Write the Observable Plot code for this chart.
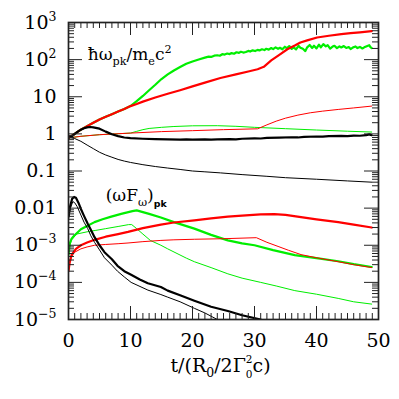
<!DOCTYPE html>
<html>
<head>
<meta charset="utf-8">
<script src="https://cdn.jsdelivr.net/npm/d3@7"></script>
<script src="https://cdn.jsdelivr.net/npm/@observablehq/plot@0.6"></script>
<style>
  html, body { margin: 0; padding: 0; background: #fff; }
  #chart svg { display: block; }
</style>
</head>
<body>
<div id="chart"></div>
<script>
// ---------- data (t in units of R0/2Γ0²c) ----------
// upper group: ħω_pk / m_e c²
const hwThickRed = [[0,0.78],[0.5,0.88],[1,1.0],[2,1.3],[3,1.62],[4,2.0],[5,2.45],[6,2.9],[7,3.4],[8,4.0],[9,4.7],[10,5.6],[11,6.4],[12,7.4],[14,9.5],[16,12],[18,15],[20,19],[22,24],[24.5,32],[27,40],[29,48],[30.5,55],[31.5,64],[32.7,95],[34,135],[35.3,190],[36.5,240],[37.4,290],[38.5,330],[40.1,395],[42,440],[44,485],[45.5,515],[47,545],[48.9,585]];
const hwThickGreen = [[0,0.78],[0.5,0.88],[1,1.0],[2,1.3],[3,1.62],[4,2.0],[5,2.45],[6,2.9],[7,3.4],[8,4.0],[9,4.7],[10,5.6],[11,7.6],[12,10.5],[13,15],[14,21],[15,30],[16,40],[17,51],[18,63],[19,77],[20,89],[21,101],[22,113],[22.6,120],[23,118],[23.5,128],[24,131],[24.4,127],[24.8,140],[25.2,137],[25.6,146],[26,141],[26.3,150],[26.7,144],[27.1,158],[27.5,152],[27.8,163],[28.2,155],[28.6,160],[29,172],[29.3,165],[29.7,178],[30.1,170],[30.5,183],[30.8,176],[31.2,190],[31.6,181],[31.9,196],[32.3,186],[32.7,205],[33,192],[33.4,214],[33.8,196],[34.1,208],[34.5,190],[34.9,222],[35.2,203],[35.6,232],[36,194],[36.3,214],[36.7,188],[37.1,236],[37.4,210],[37.8,196],[38.2,170],[38.5,214],[38.9,248],[39.3,206],[39.6,236],[40,200],[40.4,252],[40.7,214],[41.1,262],[41.5,228],[41.8,246],[42.2,198],[42.6,224],[42.9,236],[43.3,204],[43.7,228],[44,212],[44.4,232],[44.8,206],[45.2,218],[45.5,192],[45.9,214],[46.3,226],[46.6,205],[47,220],[47.4,200],[47.7,214],[48.1,230],[48.5,244],[48.7,218],[48.9,205]];
const hwThinRed = [[0,0.78],[2,0.86],[5,0.95],[10,1.05],[15,1.15],[20,1.22],[25,1.3],[30.5,1.37],[32,1.75],[33.5,2.2],[35,2.65],[37,3.2],[39,3.7],[41,4.1],[43.5,4.55],[46,5.0],[48.9,5.6]];
const hwThinGreen = [[0,0.78],[2,0.86],[5,0.95],[10,1.05],[11,1.17],[12,1.3],[13,1.4],[15,1.5],[17,1.58],[20,1.65],[24,1.66],[27,1.6],[30,1.5],[35,1.38],[40,1.27],[45,1.18],[48.9,1.12]];
const hwThickBlack = [[0,0.78],[0.5,0.86],[1,1.0],[1.5,1.15],[2,1.3],[2.5,1.42],[3,1.5],[3.5,1.53],[4,1.5],[5,1.38],[6,1.15],[7,0.98],[8,0.87],[9,0.8],[10,0.77],[12,0.74],[14,0.72],[16,0.71],[18,0.70],[19,0.71],[20,0.70],[22,0.71],[23,0.70],[24,0.71],[26,0.72],[27,0.71],[28,0.74],[30,0.76],[31,0.75],[32,0.78],[34,0.79],[36,0.81],[37,0.80],[38,0.83],[40,0.85],[41,0.84],[42,0.87],[44,0.88],[45,0.87],[46,0.90],[47,0.89],[48,0.92],[48.5,0.97],[48.9,0.92]];
const hwThinBlack = [[0,0.8],[1,0.75],[2,0.63],[3,0.5],[4,0.4],[5,0.32],[6,0.27],[7,0.235],[8,0.205],[9,0.185],[10,0.17],[12,0.148],[14,0.132],[16,0.12],[18,0.11],[20,0.10],[22,0.095],[24.5,0.089],[28,0.08],[32,0.072],[35,0.066],[40,0.06],[45,0.054],[48.9,0.05]];

// lower group: (ωF_ω)_pk
const fThickBlack = [[0,0.006],[0.3,0.012],[0.6,0.018],[0.9,0.02],[1.2,0.019],[1.6,0.014],[2,0.0095],[2.5,0.0062],[3.1,0.0038],[3.6,0.0026],[4.2,0.00165],[5,0.001],[5.8,0.00065],[7,0.00042],[7.9,0.00028],[9,0.0002],[10.1,0.00016],[11.5,0.00012],[12.8,0.000095],[14.9,0.000075],[16,0.00006],[18,0.000045],[20.3,0.000032],[23,0.000022],[25.7,0.000017],[28,0.000013],[31,0.00001]];
const fThinBlack = [[0,0.005],[0.3,0.01],[0.7,0.015],[1.0,0.014],[1.4,0.011],[2,0.0065],[2.5,0.0042],[3.1,0.0028],[3.6,0.0018],[4.2,0.0012],[5,0.00075],[5.8,0.00046],[7,0.00029],[7.9,0.0002],[9,0.00014],[10.1,0.0001],[12.8,0.000062],[14.9,0.000047],[16,0.00004],[18,0.00003],[20.3,0.00002],[22,0.000015],[24,0.00001]];
const fThickGreen = [[0,0.00055],[0.2,0.0011],[0.5,0.0015],[0.9,0.0018],[2,0.0027],[3,0.0033],[4.2,0.0042],[5.5,0.005],[6.9,0.0059],[8.5,0.007],[10.3,0.0083],[11,0.0087],[12,0.0078],[13,0.007],[14.9,0.0056],[17,0.0042],[20.3,0.0028],[23,0.0019],[25.7,0.00135],[28,0.00112],[30,0.001],[33,0.00074],[36.5,0.00054],[40,0.00045],[43.5,0.00037],[46,0.00031],[48.9,0.00026]];
const fThinGreen = [[0,0.00055],[0.2,0.001],[0.5,0.0014],[1.3,0.002],[3,0.0023],[4.3,0.0025],[6,0.0028],[8,0.0032],[9.7,0.0036],[10.2,0.0036],[11,0.0028],[12,0.002],[13.2,0.00135],[14.9,0.001],[16,0.0008],[17.5,0.0006],[19,0.00045],[20.3,0.00036],[23,0.00025],[25.7,0.00017],[28,0.00013],[31,0.0001],[33.5,0.00008],[36.5,0.00006],[40,0.000048],[43.5,0.000037],[46,0.00003],[48.9,0.000026]];
const fThickRed = [[0,0.0002],[0.2,0.00035],[0.5,0.00055],[1.2,0.0008],[2,0.001],[3,0.00118],[4.2,0.0014],[6,0.0017],[8,0.002],[9.6,0.0023],[12,0.0029],[14.9,0.0036],[17,0.0041],[20.3,0.0047],[23,0.0053],[25.7,0.0059],[28,0.0063],[31,0.0068],[33.2,0.0069],[35,0.0066],[37.5,0.0057],[40,0.005],[43.5,0.0042],[46,0.0036],[48.9,0.003]];
const fThinRed = [[0,0.0002],[0.2,0.00035],[0.5,0.0005],[1,0.00065],[2,0.0008],[3,0.0009],[4.2,0.001],[6,0.00105],[8,0.0011],[9.6,0.00115],[12,0.00125],[14.9,0.00135],[17,0.0014],[20.3,0.00145],[25,0.0015],[30.3,0.0016],[32,0.0012],[33.8,0.00093],[35.5,0.00073],[37.5,0.00056],[40,0.00046],[43.5,0.00036],[46,0.0003],[48.9,0.00025]];

// ticks and labels
const xMajor = [0, 10, 20, 30, 40, 50];
const xTickLabels = ["0", "10", "20", "30", "40", "50"];
const xMinor = d3.range(1, 50).filter(d => d % 10 !== 0);
const yMajor = [1e-5, 1e-4, 1e-3, 1e-2, 1e-1, 1, 10, 100, 1000];
const yTickLabels = ["10^{−5}", "10^{−4}", "10^{−3}", "0.01", "0.1", "1", "10", "10^{2}", "10^{3}"];
const yMinor = d3.range(-5, 3).flatMap(k => d3.range(2, 10).map(m => m * Math.pow(10, k)));

const labelUpper = "ħω_{pk}/m_{e}c^{2}";
const labelLower = "(ωF_{ω})_{pk}";
const xTitle = "t/(R_{0}/2Γ^{2}_{0}c)";

// ---------- layout ----------
const W = 399, H = 399;
const mL = 68, mR = 21, mT = 22, mB = 80;
const fw = W - mL - mR, fh = H - mT - mB;

const red = "#ff0000", green = "#00ee00", black = "#000000";
const line = (data, stroke, sw) => Plot.line(data, {x: d => d[0], y: d => d[1], stroke, strokeWidth: sw, curve: "linear", clip: true});

const svg = Plot.plot({
  width: W, height: H,
  marginLeft: mL, marginRight: mR, marginTop: mT, marginBottom: mB,
  style: {fontFamily: "'DejaVu Serif', serif", fontSize: "18px", color: "black", background: "white"},
  x: {domain: [0, 50], axis: null},
  y: {type: "log", domain: [1e-5, 1e3], axis: null},
  marks: [
    line(hwThinGreen, green, 1),
    line(hwThickGreen, green, 2.2),
    line(fThinGreen, green, 1),
    line(fThickGreen, green, 2.2),
    line(hwThinRed, red, 1),
    line(hwThickRed, red, 2.2),
    line(fThinRed, red, 1),
    line(fThickRed, red, 2.2),
    line(hwThinBlack, black, 1),
    line(hwThickBlack, black, 2.2),
    line(fThinBlack, black, 1),
    line(fThickBlack, black, 2.2),
    // inward ticks on all four sides
    Plot.tickX(xMinor, {x: d => d, insetTop: fh - 6, stroke: "#222"}),
    Plot.tickX(xMinor, {x: d => d, insetBottom: fh - 6, stroke: "#222"}),
    Plot.tickX(xMajor, {x: d => d, insetTop: fh - 13, stroke: "#222"}),
    Plot.tickX(xMajor, {x: d => d, insetBottom: fh - 13, stroke: "#222"}),
    Plot.tickY(yMinor, {y: d => d, insetRight: fw - 6, stroke: "#222"}),
    Plot.tickY(yMinor, {y: d => d, insetLeft: fw - 6, stroke: "#222"}),
    Plot.tickY(yMajor, {y: d => d, insetRight: fw - 14, stroke: "#222"}),
    Plot.tickY(yMajor, {y: d => d, insetLeft: fw - 14, stroke: "#222"}),
    Plot.frame({stroke: "#222", strokeWidth: 1.7}),
    // tick labels
    Plot.text(xMajor, {x: d => d, frameAnchor: "bottom", dy: 13.5, lineAnchor: "top", text: (d, i) => xTickLabels[i], fontSize: 19}),
    Plot.text(yMajor, {y: d => d, frameAnchor: "left", dx: -12, textAnchor: "end", lineAnchor: "middle", text: (d, i) => yTickLabels[i], fontSize: 19}),
    // annotations
    Plot.text([labelUpper], {x: 3.1, y: 95, text: d => d, textAnchor: "start", lineAnchor: "bottom", fontSize: 17}),
    Plot.text([labelLower], {x: 6.0, y: 0.016, text: d => d, textAnchor: "start", lineAnchor: "bottom", fontSize: 17}),
    Plot.text([xTitle], {frameAnchor: "bottom", dy: 46, dx: -3, text: d => d, lineAnchor: "middle", fontSize: 19})
  ]
});

// rich text: ^{...} superscript, _{...} subscript
d3.select(svg).selectAll("text").each(function() {
  const el = this;
  if (el.querySelector("tspan")) return;
  const s = el.textContent;
  if (!/[\^_]\{/.test(s)) return;
  const F = parseFloat(el.getAttribute("font-size")) || parseFloat(el.parentNode.getAttribute("font-size")) || 18;
  el.textContent = "";
  const tokens = [];
  const re = /([\^_])\{([^}]*)\}|([^\^_]+)/g;
  let m;
  while ((m = re.exec(s))) tokens.push(m);
  tokens.forEach((m, i) => {
    const t = d3.select(el).append("tspan");
    if (m[3]) { t.text(m[3]); return; }
    const prev = tokens[i - 1], next = tokens[i + 1];
    const stackedSub = m[1] === "_" && prev && prev[1] === "^";
    const stackedSup = m[1] === "^" && next && next[1] === "_";
    const isPk = m[2] === "pk" && s.startsWith("(");
    let size = 0.66, shift = m[1] === "^" ? 0.42 : -0.28;
    if (stackedSup) { size = 0.55; shift = 0.46; }
    if (stackedSub) { size = 0.55; shift = -0.30; }
    if (isPk) { size = 0.55; shift = -0.34; }
    t.text(m[2]).attr("font-size", (size * F).toFixed(1)).attr("baseline-shift", (shift * F).toFixed(1));
    if (isPk) t.attr("font-family", "'DejaVu Sans', sans-serif").attr("font-weight", "bold");
    if (stackedSub) t.attr("dx", (-0.64 * size * F).toFixed(1));
  });
});

document.getElementById("chart").append(svg);
</script>
</body>
</html>
